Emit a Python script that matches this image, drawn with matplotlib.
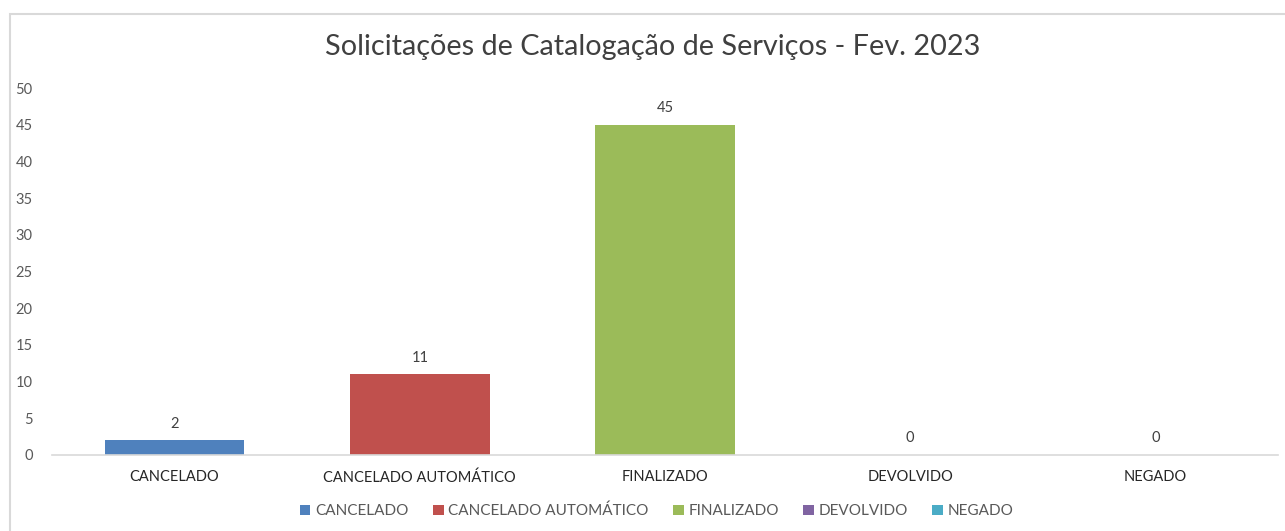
import matplotlib.pyplot as plt
from matplotlib.patches import Rectangle

categorias = ["CANCELADO", "CANCELADO AUTOMÁTICO", "FINALIZADO", "DEVOLVIDO", "NEGADO"]
quantidades = [2, 11, 45, 0, 0]
cores = ["#4F81BD", "#C0504D", "#9BBB59", "#8064A2", "#4BACC6"]
titulo = "Solicitações de Catalogação de Serviços - Fev. 2023"

plt.rcParams['font.family'] = ['Lato', 'DejaVu Sans']

fig = plt.figure(figsize=(12.85, 5.31), dpi=100)
ax = fig.add_axes([52 / 1285, 1 - 455 / 531, 1226 / 1285, 367 / 531])

# borda do grafico (estilo Excel)
fig.patches.append(Rectangle((10 / 1285, -0.1), 1.2, 1.1 - 14 / 531,
                             transform=fig.transFigure, fill=False,
                             edgecolor="#D9D9D9", linewidth=1.5))

x = range(len(categorias))
barras = ax.bar(x, quantidades, width=0.57, color=cores, label=categorias)

for xi, v in zip(x, quantidades):
    ax.annotate(str(v), (xi, v), xytext=(0, 12), textcoords="offset points",
                ha="center", va="center", fontsize=10.5, color="#404040")

ax.set_xlim(-0.5, len(categorias) - 0.5)
ax.set_ylim(0, 50)
ax.set_yticks(range(0, 51, 5))
ax.set_xticks(list(x))
ax.set_xticklabels(categorias, fontsize=10.5, color="#262626")
ax.tick_params(axis="y", length=0, pad=14, labelsize=10.5, labelcolor="#595959")
ax.tick_params(axis="x", length=0, pad=11)

for s in ["top", "right", "left"]:
    ax.spines[s].set_visible(False)
ax.spines["bottom"].set_color("#D9D9D9")
ax.spines["bottom"].set_linewidth(1.2)

fig.text(0.508, 1 - 47 / 531, titulo, ha="center", va="center",
         fontsize=20.8, color="#404040")

fig.legend(barras, categorias, loc="center", bbox_to_anchor=(0.511, 1 - 511 / 531),
           ncol=5, frameon=False, fontsize=11, handlelength=0.7, handleheight=0.7,
           handletextpad=0.3, columnspacing=1.6, labelcolor="#595959")

fig.savefig("out.png", dpi=100)
